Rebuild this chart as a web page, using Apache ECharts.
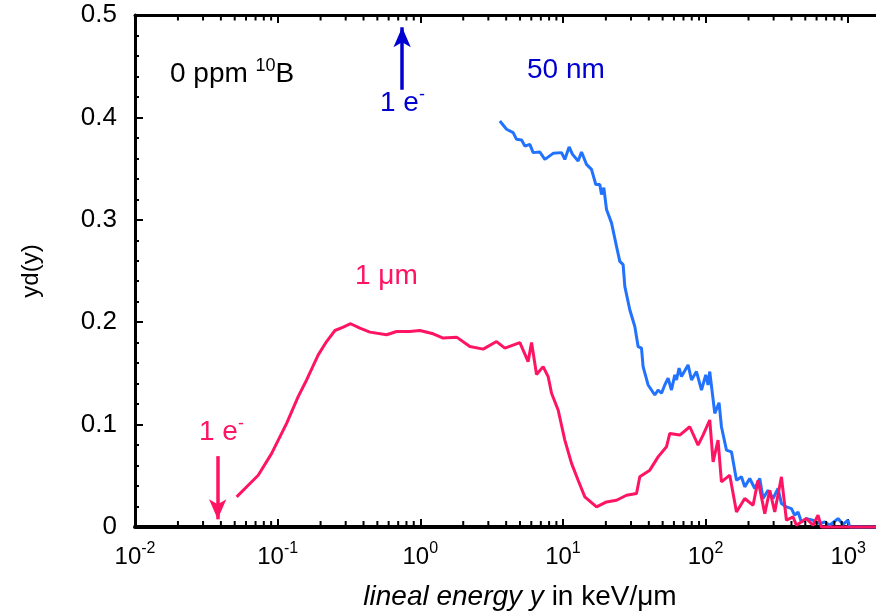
<!DOCTYPE html>
<html>
<head>
<meta charset="utf-8">
<script src="https://cdn.jsdelivr.net/npm/echarts@6/dist/echarts.min.js"></script>
<style>html,body{margin:0;padding:0;background:#fff;}#c{width:876px;height:614px;}</style>
</head>
<body>
<div id="c"></div>
<script>
// ---- data ----
const pinkX = [0.0516,0.0622,0.0731,0.0908,0.1156,0.1393,0.1596,0.1925,0.2203,0.2522,
  0.2882,0.3248,0.3773,0.4434,0.5804,0.6823,0.8455,0.9936,1.231,1.447,
  1.797,2.226,2.760,3.425,3.916,4.989,5.703,6.026,6.531,7.266,
  7.877,8.321,9.256,10.31,11.49,12.78,14.24,17.20,20.21,23.75,
  27.91,32.80,34.58,40.64,46.47,53.21,56.12,65.95,77.50,88.6,
  96.0,107.0,112.9,122.3,129.2,147.8,164.7,188.2,215.3,233.3,
  260.0,281.8,305.4,340.3,368.8,410.5,433.5,509.5,566.7,614.3,
  649.0,700,1000,1500,2000];
const pinkY = [0.0294,0.0408,0.0506,0.0719,0.1012,0.1273,0.1436,0.1681,0.1811,0.1919,
  0.1952,0.1985,0.1942,0.1903,0.1877,0.1909,0.1909,0.1919,0.1887,0.1845,
  0.1854,0.1762,0.1737,0.1811,0.1747,0.1801,0.1615,0.1801,0.1490,0.1566,
  0.1469,0.1306,0.1143,0.0849,0.0621,0.0457,0.0294,0.0196,0.0245,0.0261,
  0.0310,0.0327,0.0490,0.0555,0.0685,0.0783,0.0914,0.0898,0.0979,0.0800,
  0.0898,0.1045,0.0636,0.0849,0.0441,0.0506,0.0147,0.0278,0.0212,0.0457,
  0.0131,0.0359,0.0147,0.0490,0.0066,0.0098,0.0017,0.0082,0.0017,0.0115,
  0,0,0,0,0];
const blueX = [3.612,4.025,4.477,4.730,5.128,5.408,5.861,6.183,6.888,7.468,
  8.538,9.777,10.31,11.05,11.68,12.78,13.50,14.63,15.86,17.00,
  18.14,18.64,19.35,20.21,21.90,23.75,25.04,26.42,27.15,29.43,
  31.91,33.65,35.54,36.48,39.54,44.06,46.47,49.09,51.76,54.61,
  57.68,60.83,62.52,65.21,67.78,75.41,79.65,86.35,93.61,100.3,
  104.1,107.0,116.0,124.3,129.2,140.1,151.9,164.7,178.5,188.2,
  204.0,221.2,239.8,252.9,274.2,297.2,322.1,340.3,368.8,399.9,
  421.7,444.8,469.9,509.5,566.7,631.3,684.3,742.0,848.2,919.3,
  996.8,1024,1500,2000];
const blueY = [0.3965,0.3884,0.3852,0.3786,0.3779,0.3720,0.3737,0.3656,0.3662,0.3590,
  0.3649,0.3656,0.3590,0.3711,0.3639,0.3574,0.3662,0.3541,0.3492,0.3345,
  0.3345,0.3247,0.3313,0.3101,0.2970,0.2741,0.2594,0.2562,0.2350,0.2122,
  0.1958,0.1762,0.1747,0.1566,0.1387,0.1289,0.1338,0.1306,0.1387,0.1453,
  0.1338,0.1485,0.1436,0.1551,0.1469,0.1583,0.1436,0.1518,0.1338,0.1485,
  0.1387,0.1518,0.1110,0.1214,0.0979,0.0751,0.0734,0.0457,0.0490,0.0392,
  0.0474,0.0376,0.0474,0.0278,0.0359,0.0278,0.0376,0.0229,0.0196,0.0180,
  0.0115,0.0147,0.0049,0.0082,0.0066,0.0033,0.0049,0.0017,0.0082,0.0026,
  0.0066,0,0,0];
const arrowBlue = [[0.746, 0.427], [0.746, 0.488]];
const arrowPink = [[0.038, 0.0692], [0.038, 0.0075]];
const xMin = 0.01, xMax = 1995, yMin = 0, yMax = 0.5, yStep = 0.1;
const decades = [-2, -1, 0, 1, 2, 3];
const minorMult = [2, 3, 4, 5, 6, 7, 8, 9];

const PINK = '#ff1464', BLUE = '#2172ff', BLUE_TXT = '#0000d0';
const FONT = 'Liberation Sans, Arial, sans-serif';
const TICK = '#000';

const minorTicks = [];
decades.forEach(d => minorMult.forEach(m => {
  const v = m * Math.pow(10, d);
  if (v < xMax) minorTicks.push([v, yMin]);
}));

const chart = echarts.init(document.getElementById('c'), null, {renderer: 'canvas'});
const xLabelFmt = v => {
  const e = Math.log10(v);
  const r = Math.round(e);
  if (Math.abs(e - r) > 1e-6) return '';
  return '{b|10}{s|' + r + '}';
};
const supRich = {
  b: {fontSize: 24, fontFamily: FONT, color: '#000'},
  s: {fontSize: 16, fontFamily: FONT, color: '#000', padding: [0, 0, 16, 0]}
};
const tickStyle = {color: TICK, width: 2};

chart.setOption({
  animation: false,
  backgroundColor: '#fff',
  grid: {left: 135, top: 15, width: 756, height: 512, outerBoundsMode: 'none', containLabel: false},
  xAxis: [{
    type: 'log', logBase: 10, min: xMin, max: xMax, interval: 1, position: 'bottom',
    axisLine: {show: true, lineStyle: {color: '#000', width: 4}},
    axisTick: {show: true, inside: true, length: 8, lineStyle: tickStyle},
    axisLabel: {show: true, formatter: xLabelFmt, rich: supRich, margin: 14, showMaxLabel: false},
    splitLine: {show: false},
    name: '{i|lineal energy y}{n| in keV/\u03bcm}',
    nameLocation: 'middle', nameGap: 56,
    nameTextStyle: {
      padding: [0, 0, 0, 14],
      rich: {
        i: {fontSize: 28, fontStyle: 'italic', fontFamily: FONT, color: '#000'},
        n: {fontSize: 28, fontFamily: FONT, color: '#000'}
      }
    }
  }, {
    type: 'log', logBase: 10, min: xMin, max: xMax, interval: 1, position: 'top',
    axisLine: {show: true, lineStyle: {color: '#000', width: 3}},
    axisTick: {show: true, inside: true, length: 8, lineStyle: tickStyle},
    axisLabel: {show: false},
    splitLine: {show: false}
  }],
  yAxis: {
    type: 'value', min: yMin, max: yMax, interval: yStep,
    axisLine: {show: true, lineStyle: {color: '#000', width: 3}},
    axisTick: {show: true, inside: true, length: 8, lineStyle: tickStyle},
    minorTick: {show: true, splitNumber: 5, length: 4, lineStyle: tickStyle},
    axisLabel: {show: true, fontSize: 26, fontFamily: FONT, color: '#000', margin: 18},
    splitLine: {show: false},
    minorSplitLine: {show: false},
    name: 'yd(y)', nameLocation: 'middle', nameGap: 92,
    nameTextStyle: {fontSize: 24, fontFamily: FONT, color: '#000'}
  },
  series: [{
    type: 'custom', silent: true, clip: false, z: 5,
    data: minorTicks,
    encode: {x: 0, y: 1},
    renderItem: (params, api) => {
      const v = api.value(0);
      const b = api.coord([v, yMin]);
      const t = api.coord([v, yMax]);
      const st = {stroke: TICK, lineWidth: 2};
      return {type: 'group', children: [
        {type: 'line', shape: {x1: b[0], y1: b[1] - 2, x2: b[0], y2: b[1] - 6}, style: st},
        {type: 'line', shape: {x1: t[0], y1: t[1] + 1.5, x2: t[0], y2: t[1] + 5.5}, style: st}
      ]};
    }
  }, {
    type: 'line', name: '50 nm', data: blueX.map((x, i) => [x, blueY[i]]),
    showSymbol: false, clip: false, z: 3,
    lineStyle: {color: BLUE, width: 3},
    markLine: {
      silent: true, symbol: ['none', 'arrow'], symbolSize: [13, 20],
      label: {show: false},
      lineStyle: {color: BLUE_TXT, width: 3.5, type: 'solid'},
      data: [[{coord: arrowBlue[0]}, {coord: arrowBlue[1]}]]
    }
  }, {
    type: 'line', name: '1 \u03bcm', data: pinkX.map((x, i) => [x, pinkY[i]]),
    showSymbol: false, clip: false, z: 4,
    lineStyle: {color: PINK, width: 3},
    markLine: {
      silent: true, symbol: ['none', 'arrow'], symbolSize: [13, 20],
      label: {show: false},
      lineStyle: {color: PINK, width: 3.5, type: 'solid'},
      data: [[{coord: arrowPink[0]}, {coord: arrowPink[1]}]]
    }
  }],
  graphic: [
    {type: 'text', left: 170, top: 57, style: {
      text: '{a|0 ppm }{s|10}{a|B}', fill: '#000',
      rich: {
        a: {fontSize: 28, fontFamily: FONT, fill: '#000'},
        s: {fontSize: 18, fontFamily: FONT, fill: '#000', padding: [0, 0, 16, 0]}
      }}},
    {type: 'text', left: 527, top: 56, style: {
      text: '50 nm', fontSize: 28, fontFamily: FONT, fill: BLUE_TXT}},
    {type: 'text', left: 380, top: 86, style: {
      text: '{a|1 e}{s|-}', fill: BLUE_TXT,
      rich: {
        a: {fontSize: 28, fontFamily: FONT, fill: BLUE_TXT},
        s: {fontSize: 18, fontFamily: FONT, fill: BLUE_TXT, padding: [0, 0, 16, 0]}
      }}},
    {type: 'text', left: 199, top: 415, style: {
      text: '{a|1 e}{s|-}', fill: PINK,
      rich: {
        a: {fontSize: 28, fontFamily: FONT, fill: PINK},
        s: {fontSize: 18, fontFamily: FONT, fill: PINK, padding: [0, 0, 16, 0]}
      }}},
    {type: 'text', left: 355, top: 262, style: {
      text: '1 \u03bcm', fontSize: 28, fontFamily: FONT, fill: PINK}}
  ]
});
</script>
</body>
</html>
